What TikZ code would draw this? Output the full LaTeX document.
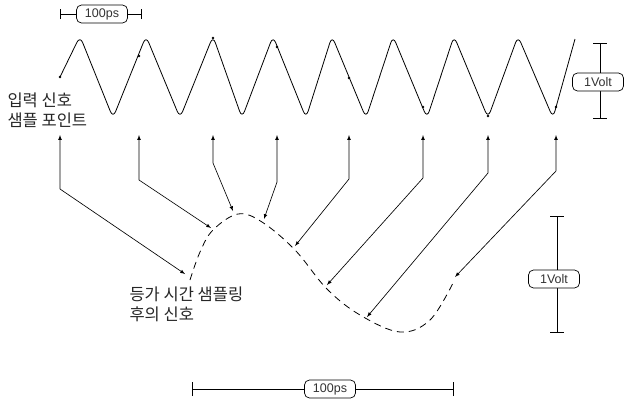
\documentclass[tikz,border=0pt]{standalone}
\usepackage{fontspec}
\setmainfont{Noto Sans CJK KR}
\newfontfamily\tagfont{Liberation Sans}
\usepackage{tikz}
\usetikzlibrary{arrows,positioning}

\begin{document}
\begin{tikzpicture}[x=1pt,y=-1pt,
    wave/.style={line width=0.8pt,rounded corners=7pt},
    link/.style={latex-latex,line width=0.65pt},
    bar/.style={line width=0.8pt},
    tag/.style={draw,fill=white,rounded corners=5pt,line width=0.7pt,
        minimum width=51pt,minimum height=18pt,inner sep=1pt,
        font=\tagfont\fontsize{12.5}{14}\selectfont,text=black!80},
    caption/.style={align=left,anchor=west,text=black!85,
        font=\fontsize{16.5}{20}\selectfont}]
    \useasboundingbox (0,0) rectangle (624,402);
    % input signal
    \draw[wave] (60,77) -- (80,36) -- (113,118) -- (146,36) -- (180,118)
        -- (213,36) -- (242,118) -- (273,36) -- (306,118) -- (332,36)
        -- (366,118) -- (393,36) -- (427,118) -- (454,36) -- (488,118)
        -- (518,36) -- (553,118) -- (575,39);
    % sample points and their arrows
    \foreach \i/\x/\y/\k/\ex/\ey in {1/60/77/189/185/274, 2/139/56/180/211/228,
        3/213/38/163/233/211, 4/277/47/182/264/219, 5/349/78/179/295/246,
        6/423/107/178/327/285, 7/488/116/173/367/317, 8/556/107/171/455/277}{
        \coordinate (s\i) at (\x,\y);
        \coordinate (tip\i) at (\x,135);
        \coordinate (knee\i) at (\x,\k);
        \coordinate (end\i) at (\ex,\ey);
        \fill (s\i) circle (1.4pt);
        \draw[link] (tip\i) -- (knee\i) -- (end\i);
    }
    % reconstructed signal
    \draw[line width=0.8pt,dash pattern=on 7pt off 5pt] plot[smooth,tension=0.6]
        coordinates {(190,280) (200,252) (213,230) (238,214) (262,222)
        (295,250) (327,289) (360,315) (400,332) (430,320) (453,283)};
    % texts
    \node[caption] (inlbl) at (4,110) {입력 신호\\샘플 포인트};
    \node[caption] (outlbl) at (126,304) {등가 시간 샘플링\\후의 신호};
    % scale bars
    \coordinate (tl) at (60,14);  \coordinate (tr) at (141,14);
    \draw[bar] (tl) -- (tr);
    \draw[bar] ([yshift=-5pt]tl) -- ([yshift=5pt]tl);
    \draw[bar] ([yshift=-5pt]tr) -- ([yshift=5pt]tr);
    \node[tag] (tps) at (102,14) {100ps};
    \coordinate (vt) at (600,43);  \coordinate (vb) at (600,118);
    \draw[bar] (vt) -- (vb);
    \draw[bar] ([xshift=-7pt]vt) -- ([xshift=7pt]vt);
    \draw[bar] ([xshift=-7pt]vb) -- ([xshift=7pt]vb);
    \node[tag] (tv) at (598,82) {1Volt};
    \coordinate (wt) at (557,216);  \coordinate (wb) at (557,332);
    \draw[bar] (wt) -- (wb);
    \draw[bar] ([xshift=-7pt]wt) -- ([xshift=7pt]wt);
    \draw[bar] ([xshift=-7pt]wb) -- ([xshift=7pt]wb);
    \node[tag] (tw) at (554,279) {1Volt};
    \coordinate (bl) at (192,389);  \coordinate (br) at (453,389);
    \draw[bar] (bl) -- (br);
    \draw[bar] ([yshift=-7pt]bl) -- ([yshift=7pt]bl);
    \draw[bar] ([yshift=-7pt]br) -- ([yshift=7pt]br);
    \node[tag] (tb) at (330,389) {100ps};
\end{tikzpicture}
\end{document}
